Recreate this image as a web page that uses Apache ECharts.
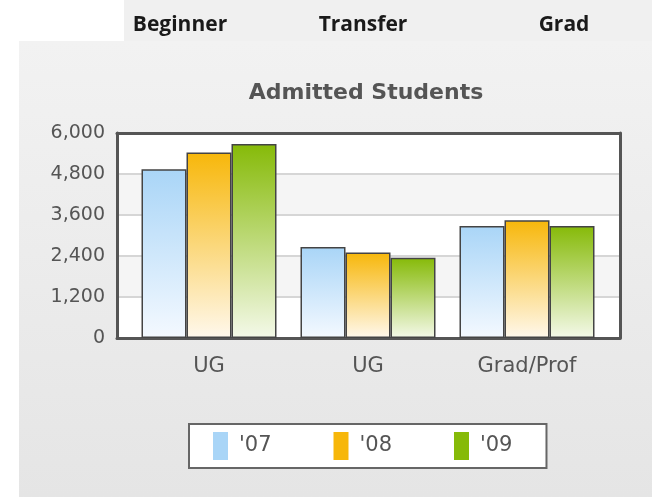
<!DOCTYPE html>
<html>
<head>
<meta charset="utf-8">
<style>
	html, body { margin: 0; padding: 0; background: #fff; }
	#chart { width: 652px; height: 497px; }
</style>
<script src="https://cdn.jsdelivr.net/npm/echarts@6/dist/echarts.min.js"></script>
</head>
<body>
	<div id="chart"></div>
	<script>
		var categories = ['UG', 'UG', 'Grad/Prof'];
		var years = ["'07", "'08", "'09"];
		var data07 = [4940, 2660, 3280];
		var data08 = [5430, 2500, 3450];
		var data09 = [5680, 2350, 3280];
		var yTicks = [0, 1200, 2400, 3600, 4800, 6000];
		var tabs = ['Beginner', 'Transfer', 'Grad'];

		var solid = ['#a9d5f7', '#f7b70a', '#86ba08'];
		var pale = ['#f4f9ff', '#fff8ec', '#f4f9e9'];

		function barStyle(i) {
			return {
				color: new echarts.graphic.LinearGradient(0, 0, 0, 1, [
					{ offset: 0, color: solid[i] },
					{ offset: 1, color: pale[i] }
				]),
				borderColor: '#444',
				borderWidth: 1.5
			};
		}

		var yMin = yTicks[0], yMax = yTicks[yTicks.length - 1], yStep = yTicks[1] - yTicks[0];
		var frameLine = { show: true, onZero: false, lineStyle: { color: '#555', width: 3 } };
		var tabFont = 'bold 21px "Open Sans"';

		var option = {
			animation: false,
			graphic: [
				{ type: 'rect', shape: { x: 124, y: 0, width: 528, height: 41 }, style: { fill: '#f0f0f0' }, z: -10 },
				{ type: 'rect', shape: { x: 19, y: 41, width: 633, height: 456 },
					style: { fill: new echarts.graphic.LinearGradient(0, 0, 0, 1, [
						{ offset: 0, color: '#f2f2f2' }, { offset: 1, color: '#e5e5e5' }]) }, z: -10 },
				{ type: 'text', x: 180, y: 25, style: { text: tabs[0], font: tabFont, fill: '#1a1a1a', textAlign: 'center', textVerticalAlign: 'middle' } },
				{ type: 'text', x: 363, y: 25, style: { text: tabs[1], font: tabFont, fill: '#1a1a1a', textAlign: 'center', textVerticalAlign: 'middle' } },
				{ type: 'text', x: 564, y: 25, style: { text: tabs[2], font: tabFont, fill: '#1a1a1a', textAlign: 'center', textVerticalAlign: 'middle' } },
				{ type: 'text', x: 366, y: 93, style: { text: 'Admitted Students', font: 'bold 22px "DejaVu Sans"', fill: '#555', textAlign: 'center', textVerticalAlign: 'middle' } }
			],
			legend: {
				left: 189, top: 424,
				orient: 'horizontal',
				backgroundColor: '#fff',
				borderColor: '#666',
				borderWidth: 2,
				borderRadius: 0,
				padding: [8, 34, 8, 24],
				icon: 'rect',
				itemWidth: 15,
				itemHeight: 28,
				itemGap: 62,
				textStyle: { fontFamily: 'DejaVu Sans', fontSize: 21, color: '#555', padding: [0, 0, 0, 6] },
				data: years.map(function (y, i) {
					return { name: y, itemStyle: { color: solid[i], borderWidth: 0 } };
				})
			},
			grid: [
				{ left: 117, right: 32, top: 133, bottom: 159, show: true, backgroundColor: '#fff', borderWidth: 0 },
				{ left: 129.5, right: 45.5, top: 133, bottom: 159 }
			],
			xAxis: [
				{ gridIndex: 0, type: 'category', data: categories, position: 'bottom',
					axisLine: frameLine, axisTick: { show: false }, axisLabel: { show: false } },
				{ gridIndex: 0, type: 'category', data: categories, position: 'top',
					axisLine: frameLine, axisTick: { show: false }, axisLabel: { show: false } },
				{ gridIndex: 1, type: 'category', data: categories,
					axisLine: { show: false }, axisTick: { show: false },
					axisLabel: { fontFamily: 'DejaVu Sans', fontSize: 21, color: '#555', margin: 18 } }
			],
			yAxis: [
				{ gridIndex: 0, type: 'value', min: yMin, max: yMax, interval: yStep, position: 'left',
					axisLine: frameLine, axisTick: { show: false },
					axisLabel: { fontFamily: 'DejaVu Sans', fontSize: 19, color: '#555', margin: 12,
						formatter: function (v) { return v.toLocaleString('en-US'); } },
					splitLine: { show: true, lineStyle: { color: '#d6d6d6', width: 2 } },
					splitArea: { show: true, areaStyle: { color: ['#ffffff', '#f5f5f5'] } } },
				{ gridIndex: 0, type: 'value', min: yMin, max: yMax, interval: yStep, position: 'right',
					axisLine: frameLine, axisTick: { show: false }, axisLabel: { show: false },
					splitLine: { show: false } },
				{ gridIndex: 1, type: 'value', min: yMin, max: yMax, interval: yStep, show: false }
			],
			series: [
				{ name: years[0], type: 'bar', xAxisIndex: 2, yAxisIndex: 2, barWidth: 45, barGap: '0%', data: data07, itemStyle: barStyle(0) },
				{ name: years[1], type: 'bar', xAxisIndex: 2, yAxisIndex: 2, barWidth: 45, barGap: '0%', data: data08, itemStyle: barStyle(1) },
				{ name: years[2], type: 'bar', xAxisIndex: 2, yAxisIndex: 2, barWidth: 45, barGap: '0%', data: data09, itemStyle: barStyle(2) }
			]
		};

		var chart = echarts.init(document.getElementById('chart'));
		chart.setOption(option);
	</script>
</body>
</html>
